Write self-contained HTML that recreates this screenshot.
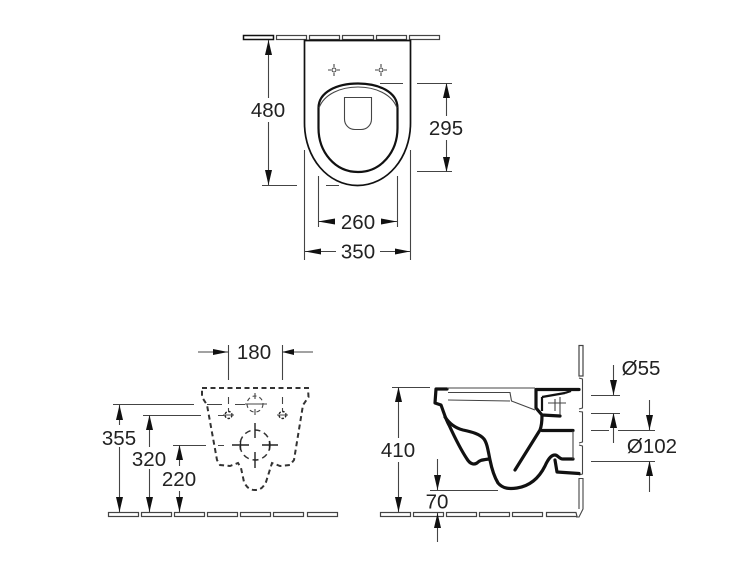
<!DOCTYPE html>
<html><head><meta charset="utf-8"><style>
html,body{margin:0;padding:0;background:#fff;width:750px;height:563px;overflow:hidden}
svg{display:block;filter:blur(0.35px)}
text{font-family:"Liberation Sans",sans-serif;font-size:20.5px;fill:#222;text-anchor:middle;dominant-baseline:central}
.t{fill:none;stroke:#444;stroke-width:1.1}
.m{fill:none;stroke:#222;stroke-width:1.4}
.o{fill:none;stroke:#111;stroke-width:1.7}
.k{fill:none;stroke:#111;stroke-width:2.2}
.b{fill:none;stroke:#111;stroke-width:3.2;stroke-linejoin:round;stroke-linecap:round}
.d{fill:none;stroke:#333;stroke-width:2;stroke-dasharray:5 3.500}
.a{fill:#111;stroke:none}
.w{fill:#fff;stroke:#444;stroke-width:1.2}
</style></head><body>
<svg width="750" height="563" viewBox="0 0 750 563" xmlns="http://www.w3.org/2000/svg">
<!-- TOP VIEW -->
<rect x="243.500" y="35.500" width="30" height="4" fill="#fff" stroke="#111" stroke-width="1.500"/>
<rect class="w" x="276.500" y="35.500" width="30" height="4"/>
<rect class="w" x="309.500" y="35.500" width="30" height="4"/>
<rect class="w" x="342.500" y="35.500" width="31" height="4"/>
<rect class="w" x="376.500" y="35.500" width="30" height="4"/>
<rect class="w" x="409.500" y="35.500" width="30" height="4"/>
<path class="o" d="M304.500 40.500H410.500V123C410.500 158 387 185.500 357.500 185.500C328 185.500 304.500 158 304.500 123Z"/>
<path class="k" d="M318.500 108C318.500 92 337 83.500 358 83.500C379 83.500 397.500 92 397.500 108V128C397.500 152 381 172 358 172C335 172 318.500 152 318.500 128Z"/>
<path class="t" d="M319 108C324 94 341 87 358 87C375 87 392 94 397 108"/>
<path class="t" d="M344.500 97.500H371.500V119C371.500 125 367 129.500 361 129.500H355C349 129.500 344.500 125 344.500 119Z"/>
<circle class="t" cx="334" cy="70" r="2"/><circle class="t" cx="381" cy="70" r="2"/>
<path class="t" d="M334 64V67M334 73V76M328 70H331M337 70H340M381 64V67M381 73V76M375 70H378M384 70H387"/>
<!-- 480 -->
<path class="t" d="M268.500 40V98M268.500 122V185M262 185.500H297M326 185.500H339"/>
<polygon class="a" points="268.500,40 265,55 272,55"/><polygon class="a" points="268.500,185 265,170 272,170"/>
<text x="268" y="110.500">480</text>
<!-- 295 -->
<path class="t" d="M380 83.500H403M417 83.500H452M417 171.500H452M446.500 83V116M446.500 140V172"/>
<polygon class="a" points="446.500,83 443,98 450,98"/><polygon class="a" points="446.500,172 443,157 450,157"/>
<text x="446" y="128.500">295</text>
<!-- 260 / 350 -->
<path class="t" d="M304.500 150V260M410.500 150V260M318.500 176V227M397.500 176V227M318 221.500H335M381 221.500H397M305 251.500H336M380 251.500H410"/>
<polygon class="a" points="318,221.500 335,218.500 335,224.500"/><polygon class="a" points="397,221.500 381,218.500 381,224.500"/>
<polygon class="a" points="305,251.500 321,248.500 321,254.500"/><polygon class="a" points="410,251.500 395,248.500 395,254.500"/>
<text x="358" y="222.500">260</text>
<text x="358" y="252">350</text>

<!-- FRONT VIEW -->
<rect class="w" x="108.500" y="512.500" width="30" height="4"/>
<rect class="w" x="141.500" y="512.500" width="30" height="4"/>
<rect class="w" x="174.500" y="512.500" width="30" height="4"/>
<rect class="w" x="207.500" y="512.500" width="30" height="4"/>
<rect class="w" x="240.500" y="512.500" width="30" height="4"/>
<rect class="w" x="273.500" y="512.500" width="30" height="4"/>
<rect class="w" x="307.500" y="512.500" width="30" height="4"/>
<path class="d" d="M202 388H308L308.500 397L303 405L294 460L290 465L280 466L272 463L266 482C263 488 260 490 255 490C250 490 247 488 244 482L241 468L238 463L230 466L220 465L217 460L207 405L202 397Z"/>
<circle class="t" cx="255" cy="404" r="8" stroke-dasharray="4 3"/>
<circle class="d" cx="255" cy="445" r="15" style="stroke-width:1.500;stroke-dasharray:6 4"/>
<circle class="m" cx="228.500" cy="415" r="3.500" stroke-dasharray="2.500 1.500"/>
<circle class="m" cx="282.500" cy="415" r="3.500" stroke-dasharray="2.500 1.500"/>
<path class="t" d="M255 393V399M255 409V415M245 404H267M223 415H234M277 415H288M228.500 397V404M282.500 397V404M228.500 408V411M282.500 408V411"/>
<path class="m" d="M255 423V438M255 452V468M232 445H249M262 445H278M240.500 441V450M269.500 441V450"/>
<!-- 180 -->
<path class="t" d="M228.500 345V380M282.500 345V380M198 352H228M282 352H313"/>
<polygon class="a" points="228,352 213,349 213,355"/><polygon class="a" points="282,352 294,349 294,355"/>
<text x="254" y="352.500">180</text>
<!-- 355/320/220 -->
<path class="t" d="M113 404.500H194M207 404.500H222M235 404.500H245M143 415.500H201M218 415.500H224M173 445.500H206M218 445.500H224M119.500 404V425M119.500 447V512M149.500 415V447M149.500 469V512M179.500 445V466M179.500 491V512"/>
<polygon class="a" points="119.500,405 116,420 123,420"/><polygon class="a" points="119.500,512 116,497 123,497"/>
<polygon class="a" points="149.500,415 146,430 153,430"/><polygon class="a" points="149.500,512 146,497 153,497"/>
<polygon class="a" points="179.500,445 176,460 183,460"/><polygon class="a" points="179.500,512 176,497 183,497"/>
<text x="119" y="438.500">355</text>
<text x="149" y="459.500">320</text>
<text x="179" y="479.500">220</text>

<!-- SIDE VIEW -->
<rect class="w" x="380.500" y="512.500" width="30" height="4"/>
<rect class="w" x="413.500" y="512.500" width="30" height="4"/>
<rect class="w" x="446.500" y="512.500" width="30" height="4"/>
<rect class="w" x="479.500" y="512.500" width="30" height="4"/>
<rect class="w" x="512.500" y="512.500" width="30" height="4"/>
<path class="w" d="M546.500 512.500H576L577 516.500H546.500Z"/>
<rect class="w" x="579" y="345.500" width="4" height="30.500"/>
<path class="t" d="M579 378L582.500 379V408L579 409M579 411.500L582.500 412V442L579 443M579 445L582.500 446V474L579 475"/>
<path class="t" d="M579 509V478.500H583V509L579 517H576"/>
<!-- body -->
<path class="b" d="M447 389H436L435 403L441 405C444 413 446 420 449 425C455 438 461 450 467 459C470 464 474 465 477 463C480 460 482 460 489 459"/>
<path class="b" d="M445 417C449 423 455 428 463 430C472 432 480 434 484 439C487 443 488 450 490 460C492 470 495 478 498 483C503 489 510 489 517 488C530 486 539 478 545 466C549 457 552 455 555 455C558 455 559 459 563 459H573"/>
<path class="b" d="M555 460L557 472L579 473.500"/>
<path class="b" d="M515 470L540 430C542 425 542 420 542 415"/>
<path class="b" d="M542 430.500H573"/>
<path class="b" d="M536 389.500H579"/>
<path class="b" d="M536 390V408L542 415L560 416"/>
<path class="k" d="M542 397V411M542 397L565 393M565 393L571 391"/>
<path class="t" d="M555 399V411M560 397V415M548 403H566M573 431V459"/>
<path class="t" d="M447 388H535M448 392.500H510L511.500 401L535 410M448 400L510 401"/>
<!-- 410 -->
<path class="t" d="M392 387.500H430M398.500 387V438M398.500 462V512M430 490.500H498M437.500 459V490M437.500 513V542"/>
<polygon class="a" points="398.500,387 395,402 402,402"/><polygon class="a" points="398.500,512 395,497 402,497"/>
<polygon class="a" points="437.500,490 434,475 441,475"/><polygon class="a" points="437.500,513 434,528 441,528"/>
<text x="398" y="450.500">410</text>
<text x="437" y="502">70</text>
<!-- Ø dims -->
<path class="t" d="M591 395.500H620M591 413.500H620M591 430.500H609M618 430.500H655M591 461.500H655M613.500 365V395M613.500 413V443M649.500 400V430M649.500 461V492"/>
<polygon class="a" points="613.500,395 610,380 617,380"/><polygon class="a" points="613.500,413 610,428 617,428"/>
<polygon class="a" points="649.500,430 646,415 653,415"/><polygon class="a" points="649.500,461 646,476 653,476"/>
<text x="641" y="368.500">Ø55</text>
<text x="652" y="446.500">Ø102</text>
</svg>
</body></html>
